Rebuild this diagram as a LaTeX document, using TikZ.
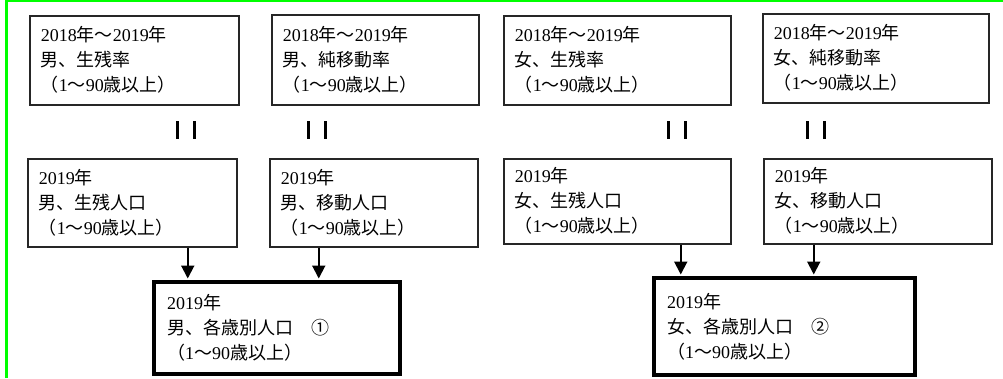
\documentclass[tikz,border=0pt]{standalone}
\usepackage{fontspec}
\setmainfont{Liberation Serif}
\newfontfamily\cjk{Noto Sans CJK JP}
\newcommand\jp[1]{{\cjk #1}}
\newcommand\yrspan{2018\jp{年～}2019\jp{年}}
\newcommand\yr{2019\jp{年}}
\newcommand\agespan{\jp{（}1\jp{～}90\jp{歳以上）}}
\definecolor{framegreen}{RGB}{0,255,0}
\usetikzlibrary{arrows.meta,positioning}

\begin{document}
\begin{tikzpicture}[x=1pt,y=-1pt,>={Triangle[length=13pt,width=13pt]},
    box/.style={draw=black!85,line width=1.5pt,anchor=north west,align=left,
      inner xsep=11pt,inner ysep=0pt,font=\fontsize{18}{25}\selectfont},
    result/.style={box,draw=black,line width=4pt,inner xsep=13pt},
    flow/.style={->,line width=2pt,shorten >=1.5pt},
    frame/.style={draw=framegreen,line width=2.5pt}]

    \useasboundingbox (0,0) rectangle (1003,378);
    \draw[frame] (6.5,378) -- (6.5,1) -- (1003,1);

    % rates 2018-2019
    \node[box,text width=187pt,minimum height=89pt] (sr_m) at (29,15) {\yrspan\\\jp{男、生残率}\\\agespan};
    \node[box,text width=185pt,minimum height=90pt] (mr_m) at (271,14) {\yrspan\\\jp{男、純移動率}\\\agespan};
    \node[box,text width=205pt,minimum height=89pt] (sr_f) at (503,15) {\yrspan\\\jp{女、生残率}\\\agespan};
    \node[box,text width=204pt,minimum height=89pt] (mr_f) at (762,13) {\yrspan\\\jp{女、純移動率}\\\agespan};

    % populations 2019
    \node[box,text width=187pt,minimum height=88pt] (sp_m) at (27,158) {\yr\\\jp{男、生残人口}\\\agespan};
    \node[box,text width=186pt,minimum height=88pt] (mp_m) at (269,158) {\yr\\\jp{男、移動人口}\\\agespan};
    \node[box,text width=205pt,minimum height=85pt] (sp_f) at (503,158) {\yr\\\jp{女、生残人口}\\\agespan};
    \node[box,text width=206pt,minimum height=85pt] (mp_f) at (763,158) {\yr\\\jp{女、移動人口}\\\agespan};

    \node[result,text width=220pt,minimum height=92pt] (tot_m) at (152,280) {\yr\\\jp{男、各歳別人口　①}\\\agespan};
    \node[result,text width=235pt,minimum height=97pt] (tot_f) at (652,276) {\yr\\\jp{女、各歳別人口　②}\\\agespan};

    % equal signs
    \foreach \x in {186,317,677,815.5} {
      \fill (\x-10,121) rectangle ++(3,18);
      \fill (\x+7,121) rectangle ++(3,18);
    }

    \draw[flow] ([xshift=55.5pt]sp_m.south) -- ([xshift=55.5pt]sp_m.south |- tot_m.north);
    \draw[flow] ([xshift=-55pt]mp_m.south) -- ([xshift=-55pt]mp_m.south |- tot_m.north);
    \draw[flow] ([xshift=63.5pt]sp_f.south) -- ([xshift=63.5pt]sp_f.south |- tot_f.north);
    \draw[flow] ([xshift=-64pt]mp_f.south) -- ([xshift=-64pt]mp_f.south |- tot_f.north);
\end{tikzpicture}
\end{document}
